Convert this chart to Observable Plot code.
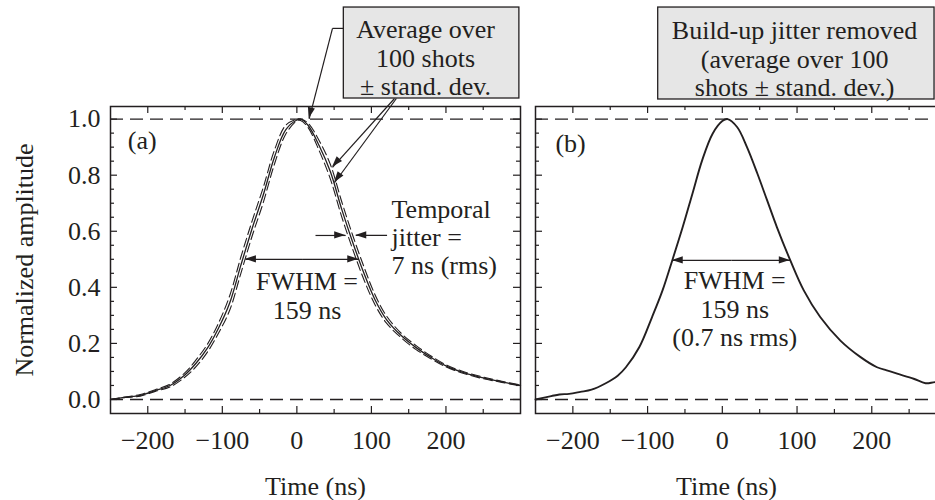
<!DOCTYPE html>
<html><head><meta charset="utf-8">
<script src="https://cdn.jsdelivr.net/npm/d3@7"></script>
<script src="https://cdn.jsdelivr.net/npm/@observablehq/plot@0.6"></script>
<style>
body{margin:0;background:#fff}
#c{position:relative;width:935px;height:500px;overflow:hidden;background:#fff}
#c svg{position:absolute;top:0}
</style>
</head><body><div id="c"></div>
<script>
// ---- Panel (a): average over 100 shots ± std. dev.
const timeA  = [-250,-230,-210,-190,-170,-150,-135,-120,-105,-90,-75,-60,-45,-30,-15,0,5,15,30,45,60,75,90,105,120,140,160,180,200,225,250,275,300];
const valA   = [0.000,0.008,0.015,0.032,0.050,0.088,0.130,0.183,0.255,0.345,0.480,0.610,0.730,0.865,0.962,0.997,1.000,0.978,0.905,0.812,0.680,0.560,0.450,0.355,0.286,0.228,0.185,0.150,0.120,0.095,0.077,0.063,0.050];
const upperA = [0.000,0.009,0.018,0.035,0.055,0.096,0.142,0.197,0.273,0.371,0.509,0.637,0.757,0.890,0.978,1.000,1.000,0.986,0.923,0.838,0.707,0.585,0.473,0.373,0.299,0.236,0.192,0.155,0.124,0.098,0.080,0.065,0.052];
const lowerA = [0.000,0.007,0.012,0.029,0.045,0.080,0.118,0.169,0.237,0.319,0.451,0.583,0.703,0.840,0.946,0.994,0.995,0.970,0.887,0.786,0.653,0.535,0.427,0.337,0.273,0.220,0.178,0.145,0.116,0.092,0.074,0.061,0.048];
// ---- Panel (b): build-up jitter removed
const timeB = [-250,-229,-218,-205,-190,-175,-156,-140,-129,-111,-94,-80,-67,-53,-40,-27,-13,0,7,20,33,47,60,73,91,109,131,158,185,207,220,234,256,272,285,300];
const valB  = [0.000,0.012,0.018,0.020,0.027,0.035,0.058,0.085,0.115,0.187,0.294,0.389,0.496,0.615,0.734,0.853,0.948,0.993,1.000,0.971,0.900,0.805,0.710,0.615,0.496,0.389,0.294,0.210,0.151,0.115,0.104,0.092,0.074,0.058,0.062,0.060];

const majorX = [-200,-100,0,100,200];
const minorX = [-150,-50,50,150,250];
const majorY = [0,0.2,0.4,0.6,0.8,1.0];
const minorY = [0.05,0.1,0.15,0.25,0.3,0.35,0.45,0.5,0.55,0.65,0.7,0.75,0.85,0.9,0.95];
const refLevels = [0,1];

// annotation texts
const boxTextA = "Average over\n100 shots\n± stand. dev.";
const boxTextB = "Build-up jitter removed\n(average over 100\nshots ± stand. dev.)";
const jitterText = "Temporal\njitter =\n7 ns (rms)";
const fwhmTextA = "FWHM =\n159 ns";
const fwhmTextB = "FWHM =\n159 ns\n(0.7 ns rms)";

const INK = "#231f20";
const H = 307; // plot height in px (500 - 106 - 87)

const dataA = timeA.map((t,i)=>({t, v: valA[i], up: upperA[i], lo: lowerA[i]}));
const dataB = timeB.map((t,i)=>({t, v: valB[i]}));

function ticks(W, sides){
  const m = [], L = 7, S = 4, sw = 1.2;
  if (sides.includes("b")) m.push(Plot.tickX(majorX,{x:d=>d,insetTop:H-L,strokeWidth:sw,stroke:INK}), Plot.tickX(minorX,{x:d=>d,insetTop:H-S,strokeWidth:sw,stroke:INK}));
  if (sides.includes("t")) m.push(Plot.tickX(majorX,{x:d=>d,insetBottom:H-L,strokeWidth:sw,stroke:INK}), Plot.tickX(minorX,{x:d=>d,insetBottom:H-S,strokeWidth:sw,stroke:INK}));
  if (sides.includes("l")) m.push(Plot.tickY(majorY,{y:d=>d,insetRight:W-L,strokeWidth:sw,stroke:INK}), Plot.tickY(minorY,{y:d=>d,insetRight:W-S,strokeWidth:sw,stroke:INK}));
  if (sides.includes("r")) m.push(Plot.tickY(majorY,{y:d=>d,insetLeft:W-L,strokeWidth:sw,stroke:INK}), Plot.tickY(minorY,{y:d=>d,insetLeft:W-S,strokeWidth:sw,stroke:INK}));
  return m;
}

function heads(list){
  return (index, scales) => {
    const g = d3.create("svg:g").attr("fill", INK);
    for (const d of list){
      const x1 = scales.x(d.x1), y1 = scales.y(d.y1), x2 = scales.x(d.x2), y2 = scales.y(d.y2);
      const a = Math.atan2(y2-y1, x2-x1), L = 11, W = 3.6;
      const bx = x2 - L*Math.cos(a), by = y2 - L*Math.sin(a);
      const px = -Math.sin(a)*W, py = Math.cos(a)*W;
      g.append("path").attr("d", `M${x2},${y2}L${bx+px},${by+py}L${bx-px},${by-py}Z`);
    }
    return g.node();
  };
}

const style = {fontFamily:"'Liberation Serif', 'DejaVu Serif', serif", fontSize:"26px", color:INK, background:"transparent", maxWidth:"none"};

// annotation geometry in data coordinates
const arrowsA = [
  {x1:47.8, y1:1.3236, x2:16.5, y2:1.001},
  {x1:131,  y1:1.0735, x2:47.8, y2:0.828},
  {x1:133.5,y1:1.0735, x2:50.5, y2:0.773},
  {x1:25,   y1:0.585,  x2:65.5, y2:0.585},
  {x1:121,  y1:0.585,  x2:79,   y2:0.585},
  {x1:7,    y1:0.5,    x2:-69,  y2:0.5},
  {x1:7,    y1:0.5,    x2:83,   y2:0.5}
];
const elbowA = [{x1:63, y1:1.3236, x2:47.8, y2:1.3236}];
const arrowsB = [
  {x1:12, y1:0.496, x2:-67, y2:0.496},
  {x1:12, y1:0.496, x2:91,  y2:0.496}
];

const left = Plot.plot({
  width: 527, height: 500, marginLeft: 110, marginRight: 7, marginTop: 106, marginBottom: 87,
  x: {domain: [-250, 300]}, y: {domain: [-0.05, 1.045]},
  style,
  marks: [
    Plot.ruleY(refLevels, {y: d=>d, stroke: INK, strokeWidth: 1.3, strokeDasharray: "13,7"}),
    Plot.line(dataA, {x:"t", y:"up", curve:"catmull-rom", stroke: INK, strokeWidth: 1.1, strokeDasharray: "9,4"}),
    Plot.line(dataA, {x:"t", y:"lo", curve:"catmull-rom", stroke: INK, strokeWidth: 1.1, strokeDasharray: "9,4"}),
    Plot.line(dataA, {x:"t", y:"v", curve:"catmull-rom", stroke: INK, strokeWidth: 1.3}),
    Plot.frame({stroke: INK, strokeWidth: 1.5}),
    ...ticks(410, "btlr"),
    Plot.axisX(majorX, {tickSize: 0, tickPadding: 17, label: null}),
    Plot.axisY(majorY, {tickSize: 0, tickPadding: 10, tickFormat: d3.format(".1f"), label: null}),
    Plot.text(["Normalized amplitude"], {x: -365, y: 0.4975, rotate: -90, text: d=>d}),
    Plot.text(["Time (ns)"], {x: 25, y: -0.31, text: d=>d}),
    Plot.text(["(a)"], {x: -207.5, y: 0.924, text: d=>d}),
    Plot.rect([{x1:63, x2:298.5, y1:1.0735, y2:1.398}], {x1:"x1", x2:"x2", y1:"y1", y2:"y2", fill:"#e6e6e6", stroke: INK, strokeWidth: 1.3}),
    Plot.text([boxTextA], {x: 172.7, y: 1.220, text: d=>d, lineHeight: 1.1}),
    Plot.text([jitterText], {x: 127, y: 0.578, text: d=>d, textAnchor: "start", lineHeight: 1.08}),
    Plot.text([fwhmTextA], {x: 13.6, y: 0.371, text: d=>d, lineHeight: 1.12}),
    Plot.link(elbowA, {x1:"x1", y1:"y1", x2:"x2", y2:"y2", stroke: INK, strokeWidth: 1.2}),
    Plot.link(arrowsA, {x1:"x1", y1:"y1", x2:"x2", y2:"y2", stroke: INK, strokeWidth: 1.2}),
    heads(arrowsA)
  ]
});
left.style.left = "0px";

const right = Plot.plot({
  width: 419, height: 500, marginLeft: 8, marginRight: 0, marginTop: 106, marginBottom: 87,
  x: {domain: [-250, 300]}, y: {domain: [-0.05, 1.045], axis: null},
  style,
  marks: [
    Plot.ruleY(refLevels, {y: d=>d, stroke: INK, strokeWidth: 1.3, strokeDasharray: "13,7"}),
    Plot.line(dataB, {x:"t", y:"v", curve:"catmull-rom", stroke: INK, strokeWidth: 1.9}),
    Plot.frame({stroke: INK, strokeWidth: 1.5}),
    ...ticks(411, "btl"),
    Plot.axisX(majorX, {tickSize: 0, tickPadding: 17, label: null}),
    Plot.text(["Time (ns)"], {x: 5.6, y: -0.31, text: d=>d}),
    Plot.text(["(b)"], {x: -203, y: 0.913, text: d=>d}),
    Plot.rect([{x1:-85.8, x2:284, y1:1.07, y2:1.398}], {x1:"x1", x2:"x2", y1:"y1", y2:"y2", fill:"#e6e6e6", stroke: INK, strokeWidth: 1.3}),
    Plot.text([boxTextB], {x: 96.7, y: 1.216, text: d=>d, lineHeight: 1.1}),
    Plot.text([fwhmTextB], {x: 16.6, y: 0.325, text: d=>d, lineHeight: 1.1}),
    Plot.link(arrowsB, {x1:"x1", y1:"y1", x2:"x2", y2:"y2", stroke: INK, strokeWidth: 1.2}),
    heads(arrowsB)
  ]
});
right.style.left = "527px";

const c = document.getElementById("c");
c.appendChild(left);
c.appendChild(right);
</script>
</body></html>
